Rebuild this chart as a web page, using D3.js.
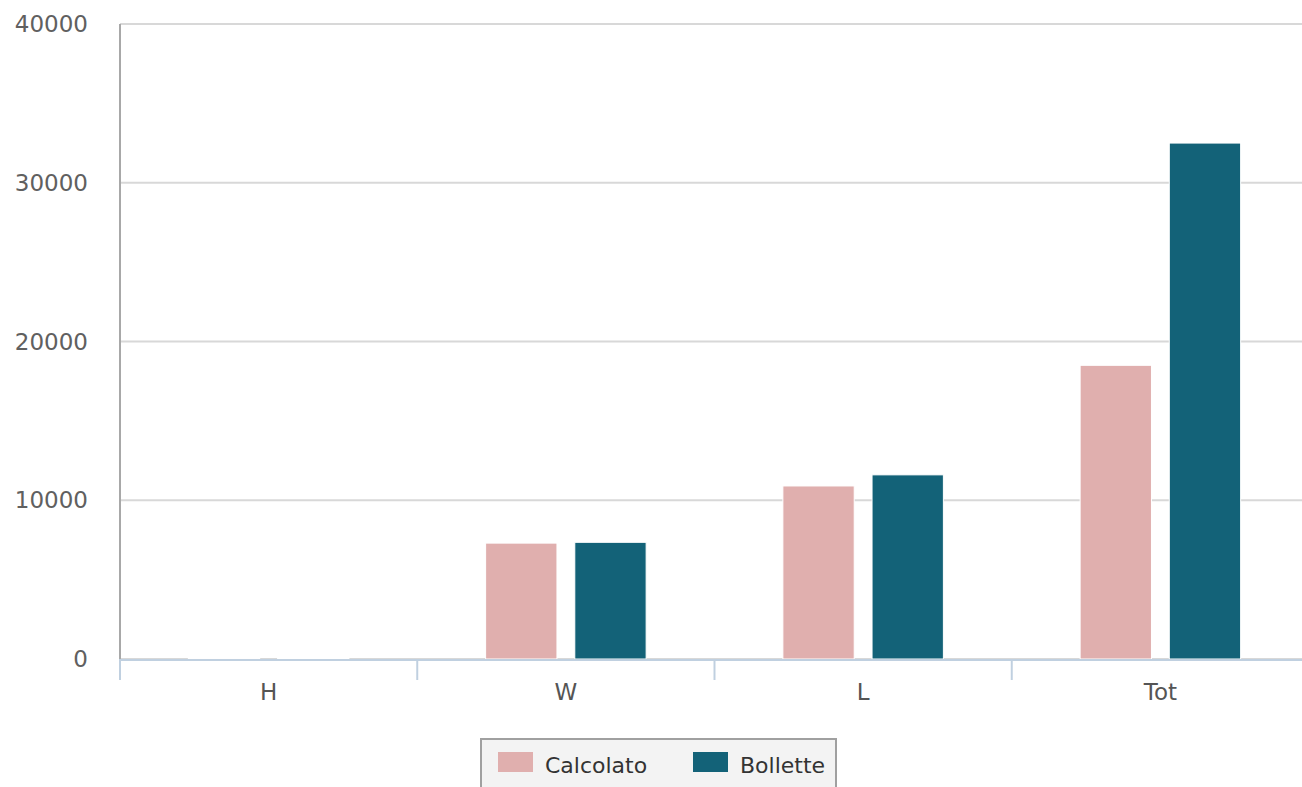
<!DOCTYPE html>
<html>
<head>
<meta charset="utf-8">
<script src="https://cdn.jsdelivr.net/npm/d3@7"></script>
<style>
  html, body { margin: 0; padding: 0; background: #fff; overflow: hidden; }
  svg { display: block; font-family: "DejaVu Sans", Verdana, sans-serif; }
</style>
</head>
<body>
<svg id="chart" width="1302" height="787"></svg>
<script>
// Categories, series and values
const categories = ["H", "W", "L", "Tot"];
const seriesNames = ["Calcolato", "Bollette"];
const calcolato = [30, 7300, 10900, 18500];
const bollette = [40, 7350, 11600, 32500];
const yTicks = [0, 10000, 20000, 30000, 40000];
const seriesColors = ["#e0afae", "#136278"];

const svg = d3.select("#chart");
const plotLeft = 120, plotRight = 1309, plotTop = 24, plotBottom = 659;

const x0 = d3.scaleBand().domain(categories).range([plotLeft, plotRight]).padding(0);
const x1 = d3.scaleBand().domain(seriesNames)
  .range([0.2 * x0.bandwidth(), 0.8 * x0.bandwidth()])
  .paddingInner(0.2).paddingOuter(0.1);
const y = d3.scaleLinear().domain([0, 40000]).range([plotBottom, plotTop]);

// Horizontal grid lines
svg.append("g").selectAll("line").data(yTicks).join("line")
  .attr("x1", plotLeft).attr("x2", 1302)
  .attr("y1", d => y(d)).attr("y2", d => y(d))
  .attr("stroke", "#d8d8d8").attr("stroke-width", 2);

// Y axis line
svg.append("line").attr("x1", plotLeft).attr("x2", plotLeft)
  .attr("y1", plotTop).attr("y2", plotBottom)
  .attr("stroke", "#a8a8a8").attr("stroke-width", 2);

// Y tick labels
svg.append("g").selectAll("text").data(yTicks).join("text")
  .attr("x", 88).attr("y", d => y(d) + 8)
  .attr("text-anchor", "end")
  .attr("font-size", 23).attr("fill", "#606060")
  .text(d => d);

// Bars
const rows = categories.map((c, i) => ({ cat: c, vals: [calcolato[i], bollette[i]] }));
const groups = svg.append("g").selectAll("g").data(rows).join("g")
  .attr("transform", d => `translate(${x0(d.cat)},0)`);
groups.selectAll("rect")
  .data(d => d.vals.map((v, j) => ({ name: seriesNames[j], v, j })))
  .join("rect")
  .attr("x", d => x1(d.name))
  .attr("width", x1.bandwidth())
  .attr("y", d => y(d.v))
  .attr("height", d => plotBottom - y(d.v))
  .attr("fill", d => seriesColors[d.j])
  .attr("stroke", "#ffffff").attr("stroke-width", 1);

// X axis line and ticks
svg.append("line").attr("x1", plotLeft).attr("x2", 1302)
  .attr("y1", plotBottom + 1).attr("y2", plotBottom + 1)
  .attr("stroke", "#c0d0e0").attr("stroke-width", 2);
const boundaries = categories.map(c => x0(c));
svg.append("g").selectAll("line").data(boundaries).join("line")
  .attr("x1", d => d).attr("x2", d => d)
  .attr("y1", plotBottom).attr("y2", plotBottom + 21)
  .attr("stroke", "#c0d0e0").attr("stroke-width", 2);

// X labels
svg.append("g").selectAll("text").data(categories).join("text")
  .attr("x", d => x0(d) + x0.bandwidth() / 2)
  .attr("y", 700)
  .attr("text-anchor", "middle")
  .attr("font-size", 23).attr("fill", "#555555")
  .text(d => d);

// Legend
const legend = svg.append("g");
legend.append("rect").attr("x", 481).attr("y", 739).attr("width", 355).attr("height", 60)
  .attr("fill", "#f3f3f3").attr("stroke", "#a0a0a0").attr("stroke-width", 2);
const legendX = [498, 693];
seriesNames.forEach((name, i) => {
  legend.append("rect").attr("x", legendX[i]).attr("y", 752)
    .attr("width", 35).attr("height", 20).attr("fill", seriesColors[i]);
  legend.append("text").attr("x", legendX[i] + 47).attr("y", 773)
    .attr("font-size", 22).attr("fill", "#333333").text(name);
});
</script>
</body>
</html>
